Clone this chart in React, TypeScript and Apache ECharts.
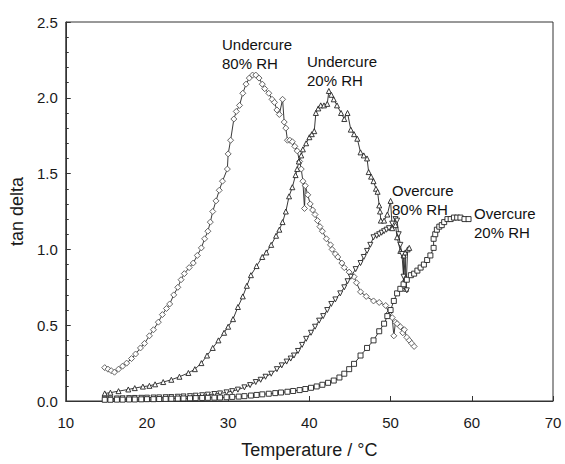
import React, { useEffect, useRef } from "react";
import * as echarts from "echarts";

const xTicks = [10, 20, 30, 40, 50, 60, 70];
const yTicks = [0, 0.5, 1.0, 1.5, 2.0, 2.5];

const seriesNames = ["Undercure 80% RH", "Undercure 20% RH", "Overcure 80% RH", "Overcure 20% RH"];

const undercure80: number[][] = [
  [14.8, 0.22], [15.2, 0.21], [15.6, 0.2], [16.0, 0.19], [16.5, 0.21], [17.0, 0.23], [17.5, 0.25],
  [18.1, 0.28], [18.6, 0.31], [19.2, 0.35], [19.7, 0.38], [20.3, 0.43], [20.8, 0.47], [21.4, 0.52],
  [21.9, 0.57], [22.4, 0.61], [22.8, 0.64], [23.3, 0.7], [23.8, 0.75], [24.2, 0.8], [24.6, 0.84],
  [25.2, 0.88], [25.7, 0.91], [26.2, 0.96], [26.7, 1.01], [27.1, 1.07], [27.5, 1.12], [27.8, 1.18],
  [28.1, 1.25], [28.5, 1.32], [28.9, 1.39], [29.3, 1.45], [29.9, 1.53], [30.0, 1.63], [30.3, 1.72],
  [30.7, 1.86], [31.0, 1.91], [31.4, 1.95], [31.8, 2.03], [32.2, 2.09], [32.6, 2.13], [33.0, 2.15],
  [33.4, 2.15], [33.8, 2.13], [34.2, 2.09], [34.5, 2.06], [35.0, 2.03], [35.4, 1.99], [35.7, 1.97],
  [36.0, 1.92], [36.3, 1.89], [36.7, 1.99], [36.9, 1.84], [37.1, 1.8], [37.3, 1.72], [37.6, 1.72],
  [37.9, 1.71], [38.2, 1.68], [38.5, 1.65], [38.8, 1.58], [39.0, 1.53], [39.2, 1.45], [39.4, 1.27],
  [39.5, 1.42], [39.8, 1.36], [40.1, 1.3], [40.4, 1.26], [40.7, 1.23], [41.0, 1.19], [41.3, 1.15],
  [41.6, 1.12], [42.1, 1.07], [42.6, 1.03], [42.8, 1.0], [43.2, 0.97], [43.5, 0.95], [44.0, 0.91],
  [44.3, 0.88], [44.9, 0.85], [45.5, 0.82], [45.8, 0.78], [46.3, 0.72], [47.0, 0.69], [47.9, 0.66],
  [48.6, 0.65], [49.4, 0.63], [49.8, 0.58], [50.2, 0.55], [50.4, 0.43], [50.6, 0.52], [50.8, 0.51],
  [51.2, 0.49], [51.5, 0.45], [51.7, 0.47], [52.0, 0.42], [52.3, 0.4], [52.6, 0.38], [52.9, 0.36],
];

const undercure20: number[][] = [
  [14.8, 0.05], [15.5, 0.055], [16.5, 0.065], [17.7, 0.076], [18.5, 0.085], [19.5, 0.095], [20.3, 0.1],
  [21.0, 0.11], [22.0, 0.125], [23.0, 0.14], [24.0, 0.16], [25.1, 0.185], [25.9, 0.21], [26.7, 0.25],
  [27.4, 0.3], [28.1, 0.35], [28.8, 0.4], [29.5, 0.45], [30.0, 0.49], [30.6, 0.54], [31.2, 0.62],
  [31.8, 0.69], [32.3, 0.76], [32.8, 0.83], [33.5, 0.89], [34.2, 0.95], [34.7, 0.98], [35.3, 1.03],
  [35.9, 1.09], [36.3, 1.13], [36.7, 1.18], [37.1, 1.25], [37.5, 1.35], [37.9, 1.41], [38.3, 1.49],
  [38.5, 1.53], [38.7, 1.58], [39.0, 1.62], [39.2, 1.66], [39.6, 1.7], [40.0, 1.74], [40.3, 1.76],
  [40.6, 1.78], [40.8, 1.9], [41.1, 1.93], [41.4, 1.95], [41.8, 1.95], [42.2, 1.96], [42.4, 2.045],
  [42.7, 2.02], [43.0, 1.99], [43.4, 1.95], [43.9, 1.9], [44.3, 1.86], [44.7, 1.9], [45.1, 1.79],
  [45.5, 1.76], [45.9, 1.73], [46.3, 1.64], [46.7, 1.62], [47.1, 1.6], [47.3, 1.51], [47.6, 1.48],
  [47.9, 1.45], [48.2, 1.4], [48.4, 1.38], [48.6, 1.29], [48.7, 1.25], [48.8, 1.19], [49.2, 1.19],
  [49.6, 1.23], [50.0, 1.32], [50.2, 1.14], [50.6, 1.16], [50.8, 1.08], [51.2, 0.99], [51.6, 0.96],
  [51.6, 0.76], [51.8, 0.98], [51.9, 0.74], [52.1, 1.0], [52.3, 1.01],
];

const overcure80: number[][] = [
  [14.8, 0.015], [15.5, 0.016], [16.3, 0.017], [17.0, 0.018], [17.8, 0.019], [18.5, 0.02], [19.3, 0.021],
  [20.0, 0.022], [20.8, 0.023], [21.5, 0.024], [22.3, 0.025], [23.0, 0.026], [23.8, 0.028], [24.5, 0.03],
  [25.3, 0.032], [26.0, 0.035], [26.8, 0.038], [27.5, 0.042], [28.3, 0.046], [29.0, 0.05], [29.8, 0.057],
  [30.5, 0.065], [31.2, 0.075], [32.0, 0.09], [32.7, 0.105], [33.4, 0.125], [34.0, 0.14], [34.6, 0.16],
  [35.3, 0.18], [36.0, 0.21], [36.6, 0.235], [37.2, 0.26], [37.7, 0.28], [38.1, 0.3], [38.6, 0.33],
  [39.1, 0.37], [39.6, 0.41], [40.2, 0.45], [40.7, 0.49], [41.2, 0.53], [41.7, 0.56], [42.2, 0.6],
  [42.7, 0.64], [43.2, 0.67], [43.8, 0.71], [44.3, 0.75], [44.7, 0.79], [45.1, 0.82], [45.7, 0.87],
  [46.3, 0.91], [46.7, 0.95], [47.1, 0.99], [47.5, 1.03], [47.9, 1.08], [48.3, 1.09], [48.6, 1.1],
  [48.9, 1.11], [49.2, 1.12], [49.5, 1.13], [49.8, 1.14], [50.2, 1.17], [50.6, 1.2], [50.8, 1.19],
  [51.0, 1.1], [51.2, 1.03], [51.4, 0.97], [51.6, 0.82], [51.8, 0.78], [52.0, 0.73],
];

const overcure20: number[][] = [
  [14.8, 0.008], [15.5, 0.008], [16.3, 0.009], [17.0, 0.009], [17.8, 0.01], [18.5, 0.01], [19.3, 0.011],
  [20.0, 0.012], [20.8, 0.012], [21.5, 0.013], [22.3, 0.014], [23.0, 0.015], [23.8, 0.016], [24.5, 0.017],
  [25.3, 0.018], [26.0, 0.019], [26.8, 0.02], [27.5, 0.021], [28.3, 0.022], [29.0, 0.023], [29.8, 0.025],
  [30.5, 0.027], [31.3, 0.029], [32.0, 0.032], [32.8, 0.036], [33.5, 0.04], [34.2, 0.044], [35.0, 0.048],
  [35.8, 0.052], [36.5, 0.056], [37.3, 0.061], [38.0, 0.066], [38.8, 0.072], [39.5, 0.079], [40.2, 0.087],
  [40.9, 0.096], [41.6, 0.107], [42.3, 0.12], [43.0, 0.135], [43.7, 0.155], [44.3, 0.18], [44.9, 0.21],
  [45.5, 0.245], [46.3, 0.3], [47.1, 0.35], [47.9, 0.4], [48.6, 0.46], [49.2, 0.51], [49.6, 0.56],
  [50.0, 0.6], [50.4, 0.66], [50.8, 0.71], [51.2, 0.74], [51.6, 0.77], [52.0, 0.8], [52.5, 0.83],
  [52.9, 0.84], [53.3, 0.86], [53.7, 0.88], [54.1, 0.9], [54.5, 0.93], [54.9, 0.96], [55.3, 1.01],
  [55.3, 1.07], [55.5, 1.1], [55.7, 1.13], [56.0, 1.15], [56.3, 1.16], [56.6, 1.18], [57.0, 1.2],
  [57.4, 1.2], [57.8, 1.21], [58.2, 1.21], [58.6, 1.21], [59.1, 1.2], [59.6, 1.2],
];

const seriesData = [undercure80, undercure20, overcure80, overcure20];
const seriesSymbols = ["diamond", "triangle", "triangle", "rect"];
const seriesRotate = [0, 0, 180, 0];
const labelLines = [
  ["Undercure", "80% RH"],
  ["Undercure", "20% RH"],
  ["Overcure", "80% RH"],
  ["Overcure", "20% RH"],
];

export default function App() {
  const ref = useRef<HTMLDivElement>(null);
  useEffect(() => {
    document.body.style.margin = "0";
    if (!ref.current) return;
    const chart = echarts.init(ref.current, undefined, { renderer: "svg" });
    const font = "Liberation Sans, Arial, sans-serif";
    const labelPos = [
      [222, 35],
      [307, 52],
      [392, 181],
      [474, 204],
    ];
    chart.setOption({
      animation: false,
      backgroundColor: "#fff",
      grid: { left: 64, right: 12, top: 22, bottom: 59, show: true, borderColor: "#333", borderWidth: 1 },
      xAxis: {
        type: "value",
        min: xTicks[0],
        max: xTicks[xTicks.length - 1],
        interval: 10,
        name: "Temperature / °C",
        nameLocation: "middle",
        nameGap: 40,
        nameTextStyle: { fontFamily: font, fontSize: 18, color: "#1a1a1a" },
        axisLine: { show: true, lineStyle: { color: "#333" } },
        axisTick: { inside: true, length: 5, lineStyle: { color: "#333" } },
        axisLabel: { fontFamily: font, fontSize: 15, color: "#1a1a1a", margin: 14 },
        splitLine: { show: false },
      },
      yAxis: {
        type: "value",
        min: yTicks[0],
        max: yTicks[yTicks.length - 1],
        interval: 0.5,
        name: "tan delta",
        nameLocation: "middle",
        nameGap: 26,
        nameTextStyle: { fontFamily: font, fontSize: 18, color: "#1a1a1a" },
        axisLine: { show: true, lineStyle: { color: "#333" } },
        axisTick: { inside: true, length: 5, lineStyle: { color: "#333" } },
        minorTick: { show: true, splitNumber: 5, length: 3, lineStyle: { color: "#333" } },
        axisLabel: {
          fontFamily: font,
          fontSize: 15,
          color: "#1a1a1a",
          margin: 8,
          formatter: (v: number) => v.toFixed(1),
        },
        splitLine: { show: false },
      },
      series: seriesData.map((d, i) => ({
        name: seriesNames[i],
        type: "line",
        data: d,
        symbol: seriesSymbols[i],
        symbolRotate: seriesRotate[i],
        symbolSize: i === 0 ? 6 : 5,
        showAllSymbol: true,
        lineStyle: { color: "#222", width: 0.9 },
        itemStyle: { color: "#fff", borderColor: i === 0 ? "#555" : "#222", borderWidth: 0.9 },
        z: 2 + i,
      })),
      graphic: labelLines.map((lines, i) => ({
        type: "text",
        left: labelPos[i][0],
        top: labelPos[i][1],
        z: 100,
        style: {
          text: lines.join("\n"),
          fontFamily: font,
          fontSize: 15,
          lineHeight: 19,
          fill: "#111",
        },
      })),
    });
    return () => chart.dispose();
  }, []);
  return <div ref={ref} style={{ width: 565, height: 464 }} />;
}
